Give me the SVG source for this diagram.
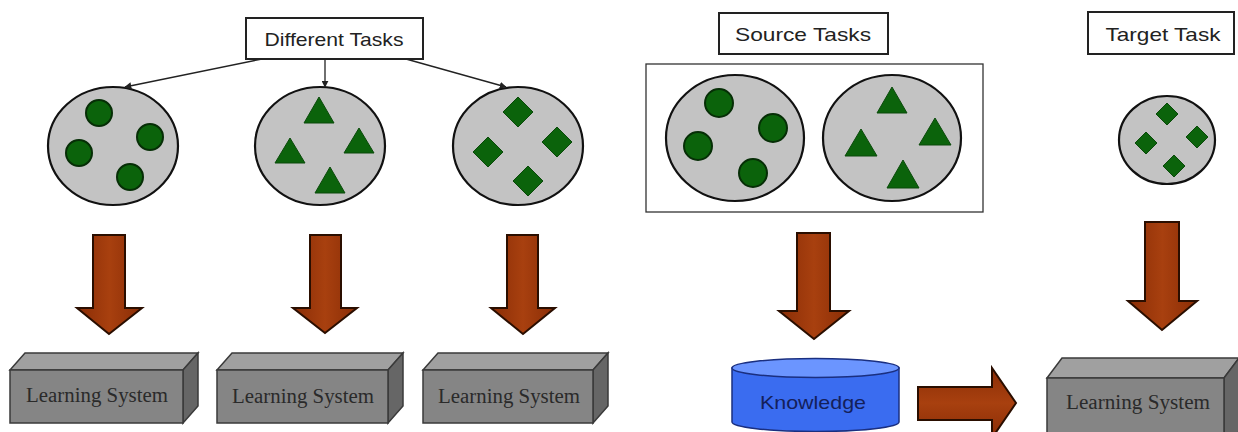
<svg xmlns="http://www.w3.org/2000/svg" width="1238" height="432" viewBox="0 0 1238 432">
<defs>
<style>
.lbl{fill:#ffffff;stroke:#222;stroke-width:2}
.lt{font-family:"Liberation Sans",Arial,sans-serif;font-size:18.5px;fill:#222;text-anchor:middle}
.ls{font-family:"Liberation Serif","Times New Roman",serif;font-size:20px;fill:#2a2a2a;text-anchor:middle}
.pool{fill:#c3c3c3;stroke:#111;stroke-width:2.2}
.dot{fill:#0b630b;stroke:#062e06;stroke-width:2}
.shp{fill:#0b630b;stroke:#0a4a0a;stroke-width:1}
.front{fill:#858585;stroke:#3a3a3a;stroke-width:1.5}
.top{fill:#a0a0a0;stroke:#3a3a3a;stroke-width:1.5}
.side{fill:#666;stroke:#3a3a3a;stroke-width:1.5}
.big{fill:url(#brown);stroke:#2a0e00;stroke-width:2;stroke-linejoin:miter}
.thin{stroke:#222;stroke-width:1.3;fill:none}
</style>
<linearGradient id="brown" x1="0" y1="0" x2="1" y2="0">
<stop offset="0" stop-color="#8a2d06"/>
<stop offset="0.5" stop-color="#a8400f"/>
<stop offset="1" stop-color="#8a2d06"/>
</linearGradient>
<linearGradient id="brownv" x1="0" y1="0" x2="0" y2="1">
<stop offset="0" stop-color="#8a2d06"/>
<stop offset="0.5" stop-color="#a8400f"/>
<stop offset="1" stop-color="#8a2d06"/>
</linearGradient>
<marker id="ah" viewBox="0 0 10 10" refX="9" refY="5" markerWidth="7" markerHeight="7" orient="auto" markerUnits="userSpaceOnUse">
<path d="M0,0 L10,5 L0,10 z" fill="#222"/>
</marker>
</defs>
<rect width="1238" height="432" fill="#ffffff"/>

<g id="different-tasks">
<rect class="lbl" x="246" y="18" width="177" height="41"/>
<text class="lt" x="334" y="46" textLength="139" lengthAdjust="spacingAndGlyphs">Different Tasks</text>
</g>

<g id="pool-circles">
<ellipse class="pool" cx="113" cy="146" rx="65" ry="59"/>
<circle class="dot" cx="99" cy="113" r="13"/>
<circle class="dot" cx="150" cy="137" r="13"/>
<circle class="dot" cx="79" cy="153" r="13"/>
<circle class="dot" cx="130" cy="177" r="13"/>
</g>

<g id="pool-triangles">
<ellipse class="pool" cx="320" cy="146" rx="65" ry="59"/>
<polygon class="shp" points="319,97 334,123 304,123"/>
<polygon class="shp" points="359,128 374,153 344,153"/>
<polygon class="shp" points="290,138 305,163 275,163"/>
<polygon class="shp" points="330,167 345,193 315,193"/>
</g>

<g id="pool-diamonds">
<ellipse class="pool" cx="518" cy="146" rx="65" ry="59"/>
<polygon class="shp" points="518,97 533,112 518,127 503,112"/>
<polygon class="shp" points="557,127 572,142 557,157 542,142"/>
<polygon class="shp" points="488,137 503,152 488,167 473,152"/>
<polygon class="shp" points="528,166 543,181 528,196 513,181"/>
</g>

<g id="ls1">
<polygon class="top" points="10,370 25,353 198,353 183,370"/>
<polygon class="side" points="183,370 198,353 198,406 183,423"/>
<rect class="front" x="10" y="370" width="173" height="53"/>
<text class="ls" x="97" y="402" textLength="142" lengthAdjust="spacingAndGlyphs">Learning System</text>
</g>

<g id="ls2">
<polygon class="top" points="217,370 232,353 403,353 388,370"/>
<polygon class="side" points="388,370 403,353 403,406 388,423"/>
<rect class="front" x="217" y="370" width="171" height="53"/>
<text class="ls" x="303" y="403" textLength="142" lengthAdjust="spacingAndGlyphs">Learning System</text>
</g>

<g id="ls3">
<polygon class="top" points="423,370 438,353 608,353 593,370"/>
<polygon class="side" points="593,370 608,353 608,406 593,423"/>
<rect class="front" x="423" y="370" width="170" height="53"/>
<text class="ls" x="509" y="403" textLength="142" lengthAdjust="spacingAndGlyphs">Learning System</text>
</g>

<g id="source-tasks">
<rect class="lbl" x="719" y="13" width="169" height="41"/>
<text class="lt" x="803" y="41" textLength="136" lengthAdjust="spacingAndGlyphs">Source Tasks</text>
</g>

<g id="source-group">
<rect x="646" y="64" width="337" height="148" fill="#fff" stroke="#333" stroke-width="1.3"/>
<ellipse class="pool" cx="735" cy="138" rx="69" ry="63"/>
<circle class="dot" cx="719" cy="103" r="14"/>
<circle class="dot" cx="773" cy="128" r="14"/>
<circle class="dot" cx="698" cy="146" r="14"/>
<circle class="dot" cx="753" cy="173" r="14"/>
<ellipse class="pool" cx="892" cy="138" rx="69" ry="63"/>
<polygon class="shp" points="892,87 907,113 877,113"/>
<polygon class="shp" points="935,118 951,145 919,145"/>
<polygon class="shp" points="861,129 877,156 845,156"/>
<polygon class="shp" points="903,160 919,188 887,188"/>
</g>

<g id="knowledge">
<path d="M732,368 L732,422 A83.5,9.5 0 0 0 899,422 L899,368 Z" fill="#3a6cf0" stroke="#1a2f80" stroke-width="1.5"/>
<ellipse cx="815.5" cy="368" rx="83.5" ry="9.5" fill="#6b95ff" stroke="#1a2f80" stroke-width="1.5"/>
<text x="813" y="409" font-family="'Liberation Sans',Arial,sans-serif" font-size="19px" fill="#14205a" text-anchor="middle" textLength="106" lengthAdjust="spacingAndGlyphs">Knowledge</text>
</g>

<g id="target-task">
<rect class="lbl" x="1088" y="12" width="146" height="42"/>
<text class="lt" x="1163" y="41" textLength="115" lengthAdjust="spacingAndGlyphs">Target Task</text>
</g>

<g id="target-pool">
<ellipse class="pool" cx="1167" cy="140" rx="48" ry="44"/>
<polygon class="shp" points="1167,103 1178,114 1167,125 1156,114"/>
<polygon class="shp" points="1197,126 1208,137 1197,148 1186,137"/>
<polygon class="shp" points="1146,132 1157,143 1146,154 1135,143"/>
<polygon class="shp" points="1174,155 1185,166 1174,177 1163,166"/>
</g>

<g id="ls-target">
<polygon class="top" points="1047,378 1062,358 1239,358 1224,378"/>
<polygon class="side" points="1224,378 1239,358 1239,432 1224,440"/>
<rect class="front" x="1047" y="378" width="177" height="60"/>
<text class="ls" x="1138" y="409" textLength="144" lengthAdjust="spacingAndGlyphs">Learning System</text>
</g>

<g id="connectors">
<line class="thin" x1="262" y1="59" x2="125" y2="87" marker-end="url(#ah)"/>
<line class="thin" x1="325" y1="59" x2="325" y2="87" marker-end="url(#ah)"/>
<line class="thin" x1="406" y1="59" x2="506" y2="87" marker-end="url(#ah)"/>
<polygon class="big" points="93,235 125,235 125,308 142,308 109,334 77,308 93,308"/>
<polygon class="big" points="310,235 341,235 341,308 357,308 325,333 293,308 310,308"/>
<polygon class="big" points="507,235 538,235 538,308 555,308 523,334 491,308 507,308"/>
<polygon class="big" points="797,233 830,233 830,311 849,311 814,339 779,311 797,311"/>
<polygon class="big" points="1145,222 1179,222 1179,301 1197,301 1162,330 1128,301 1145,301"/>
<polygon points="918,387 992,387 992,368 1016,403 992,438 992,420 918,420" fill="url(#brownv)" stroke="#2a0e00" stroke-width="2"/>
</g>
</svg>
